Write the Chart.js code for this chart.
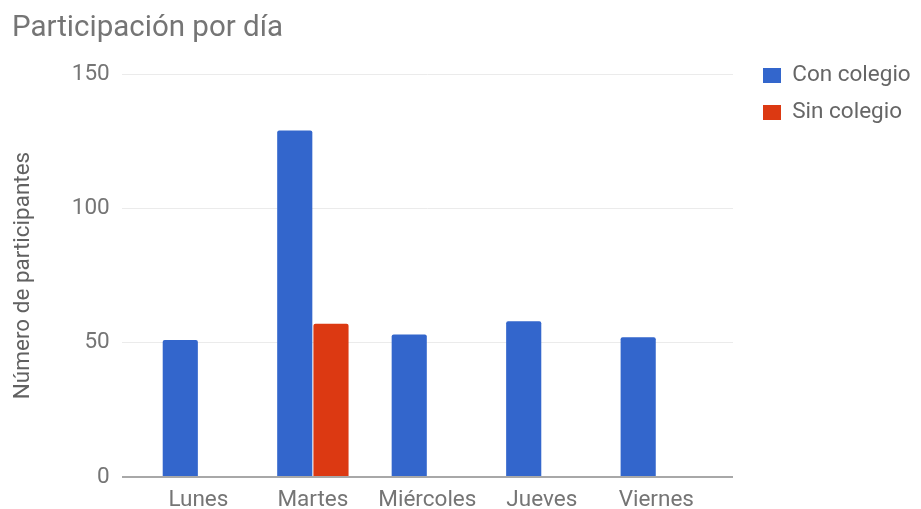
<!DOCTYPE html>
<html lang="es">
<head>
<meta charset="utf-8">
<title>Participación por día</title>
<script src="https://cdn.jsdelivr.net/npm/chart.js@4.4.1/dist/chart.umd.min.js"></script>
<style>
  html, body { margin: 0; padding: 0; background: #ffffff; }
  #chart { display: block; }
</style>
</head>
<body>
<canvas id="chart" width="921" height="509"></canvas>
<script>
// Participantes por día de la semana
const days = ['Lunes', 'Martes', 'Miércoles', 'Jueves', 'Viernes'];
const conColegio = [51, 129, 53, 58, 52];
const sinColegio = [0, 57, 0, 0, 0];
const yTicks = [0, 50, 100, 150];

const FONT = 'Roboto';
const TEXT_GREY = '#757575';

// Legend to the right of the plot, starting near its top edge
const legendPlacement = {
  id: 'legendPlacement',
  afterInit(chart) {
    const legend = chart.legend;
    const fit = legend.fit;
    legend.fit = function () {
      fit.call(this);
      this.width = 188;
    };
  },
  afterLayout(chart) {
    const legend = chart.legend;
    const pad = legend.options.labels.padding;
    legend.left = chart.chartArea.right + 30 - pad;
    legend.top = chart.chartArea.top - 9.75 - pad;
  }
};

new Chart(document.getElementById('chart'), {
  type: 'bar',
  data: {
    datasets: [
      {
        label: 'Con colegio',
        data: conColegio.map((v, i) => ({ x: i, y: v })),
        backgroundColor: '#3366cc',
        borderWidth: 0,
        borderRadius: 2
      },
      {
        label: 'Sin colegio',
        data: sinColegio.map((v, i) => ({ x: i, y: v })),
        backgroundColor: '#dc3912',
        borderWidth: 0,
        borderRadius: 2
      }
    ]
  },
  options: {
    responsive: false,
    animation: false,
    layout: { padding: { left: 12, right: 0, top: 0, bottom: 0 } },
    datasets: {
      bar: { categoryPercentage: 0.633, barPercentage: 0.97 }
    },
    scales: {
      x: {
        type: 'linear',
        offset: false,
        min: -0.67,
        max: 4.67,
        afterBuildTicks(scale) {
          scale.ticks = days.map((d, i) => ({ value: i }));
        },
        afterFit(scale) { scale.height = 32; },
        grid: { display: false, drawTicks: false, offset: false },
        border: { display: false },
        ticks: {
          autoSkip: false,
          maxRotation: 0,
          padding: 10,
          color: TEXT_GREY,
          font: { family: FONT, size: 22.5 },
          callback: (value) => days[value] ?? ''
        }
      },
      y: {
        min: 0,
        max: 150,
        afterBuildTicks(scale) {
          scale.ticks = yTicks.map(v => ({ value: v }));
        },
        afterFit(scale) { scale.width = 109.7; },
        grid: {
          drawTicks: false,
          color: (ctx) => ctx.tick && ctx.tick.value === 0 ? '#a8a8a8' : '#ebebeb',
          lineWidth: (ctx) => ctx.tick && ctx.tick.value === 0 ? 2 : 1
        },
        border: { display: false },
        ticks: {
          padding: 12,
          color: TEXT_GREY,
          font: { family: FONT, size: 22.5 }
        },
        title: {
          display: true,
          text: 'Número de participantes',
          color: '#616161',
          padding: 0,
          font: { family: FONT, size: 22.5, lineHeight: 1.0 }
        }
      }
    },
    plugins: {
      title: {
        display: true,
        text: 'Participación por día',
        align: 'start',
        color: TEXT_GREY,
        font: { family: FONT, size: 29.5, weight: 'normal', lineHeight: 1.2 },
        padding: { top: 10.8, bottom: 27.8 }
      },
      legend: {
        position: 'right',
        align: 'start',
        labels: {
          color: '#666666',
          boxWidth: 18,
          boxHeight: 15,
          padding: 14.5,
          font: { family: FONT, size: 22.5 }
        }
      },
      tooltip: { enabled: false }
    }
  },
  plugins: [legendPlacement]
});
</script>
</body>
</html>
